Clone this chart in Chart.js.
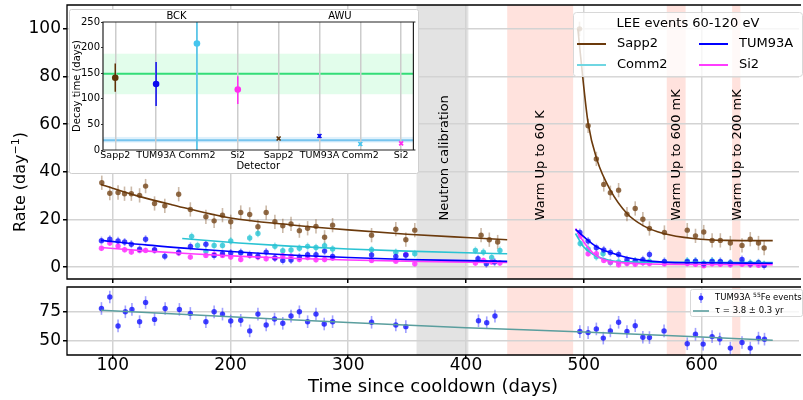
<!DOCTYPE html>
<html>
<head>
<meta charset="utf-8">
<title>LEE rates</title>
<script src="https://cdn.jsdelivr.net/npm/chart.js@4.4.1/dist/chart.umd.min.js"></script>
<style>
  html, body { margin: 0; padding: 0; background: #fff; }
  body { width: 803px; height: 400px; overflow: hidden; position: relative; }
  canvas { position: absolute; }
  #rateChart { left: 0; top: 0; }
  #feChart { left: 0; top: 283px; }
  #tauChart { left: 69px; top: 9px; }
</style>
</head>
<body>
<canvas id="rateChart" width="803" height="283"></canvas>
<canvas id="feChart" width="803" height="125"></canvas>
<canvas id="tauChart" width="350" height="165"></canvas>
<script>
// Axis ticks
const dayTicks = [100, 200, 300, 400, 500, 600];
const rateTicks = [0, 20, 40, 60, 80, 100];
const feTicks = [50, 75];
const tauTicks = [0, 50, 100, 150, 200, 250];

// Shaded periods (days since cooldown)
const neutronCal = [358, 402];
const warmUps = [[435, 491], [570.5, 586.5], [626, 633]];
const periodLabels = ['Neutron calibration', 'Warm Up to 60 K', 'Warm Up to 600 mK', 'Warm Up to 200 mK'];
const periodLabelDays = [382, 463, 579, 631];

// LEE events 60-120 eV : Sapp2
const sappDays = [90.7, 97.5, 104.5, 110, 115.8, 122.8, 127.9, 135.5, 144.2, 156,
  165.9, 179.1, 186.1, 193.2, 200.2, 208.7, 216.3, 223.3, 230.3, 237.7,
  244.4, 251.4, 258.5, 265.5, 272.6, 279.9, 286.7, 319.8, 340.4, 348.9,
  356.5, 412.8, 419.8, 426.9,
  496.4, 503.7, 510.7, 517, 522.6, 529.6, 536.7, 543.7, 550.2, 555.8,
  568.5, 587.9, 594.9, 601.9, 609, 616, 624.5, 634.4, 641.4, 648.4, 653.2];
const sappRate = [35.4, 31.0, 31.3, 30.8, 30.8, 30.1, 34.0, 26.7, 25.7, 30.6,
  24.2, 21.1, 19.4, 21.8, 19.0, 22.9, 22.1, 16.9, 22.9, 19.0,
  17.3, 18.1, 15.3, 16.3, 17.1, 12.5, 17.6, 13.4, 15.9, 11.5,
  15.5, 13.4, 11.5, 10.5,
  100, 59.3, 45.4, 34.7, 31.2, 32.3, 22.2, 24.6, 20.1, 16.2,
  14.5, 15.5, 13.1, 14.7, 11.2, 11.2, 10.1, 9.1, 11.7, 10.1, 8.0];
const sappFitDays1 = [90, 120, 150, 200, 250, 300, 350, 400, 435];
const sappFit1 = [34.7, 30.0, 26.2, 20.6, 17.8, 15.6, 13.8, 12.4, 11.5];
const sappFitDays2 = [495, 499.5, 503.7, 511.3, 522.6, 536.7, 550.8, 567.7, 593, 621, 660.5];
const sappFit2 = [100, 78, 60.4, 44.9, 32.3, 22.5, 17.3, 14.1, 12.0, 11.2, 11.1];

// TUM93A
const tumDays = [90.4, 97.5, 104.5, 110.1, 115.8, 122.8, 127.9, 135.5, 144.2, 156,
  166, 179.1, 186.1, 193.2, 200.2, 208.7, 216.3, 223.3, 230.3, 237.7,
  244.4, 251.4, 258.5, 265.5, 272.6, 279.9, 286.7, 319.8, 340.4, 348.9,
  410.2, 417.3, 424.3,
  496.7, 503.7, 510.7, 517, 522.6, 529.6, 536.7, 543.7, 550.2, 555.8,
  568.5, 587.9, 594.9, 601.9, 609, 616, 624.5, 634.4, 641.4, 648.4, 653.2];
const tumRate = [11.1, 11.7, 11.0, 10.5, 9.6, 7.5, 11.7, 7.3, 4.6, 6.3,
  8.7, 9.6, 4.9, 5.6, 5.9, 6.1, 5.2, 4.6, 6.3, 3.8,
  2.8, 3.0, 4.2, 5.2, 5.2, 6.7, 4.5, 5.1, 4.5, 5.1,
  3.5, 1.4, 2.1,
  14.5, 10.9, 8.1, 7.2, 6.1, 5.3, 3.1, 2.4, 3.1, 5.3,
  2.4, 2.3, 2.5, 1.4, 2.4, 2.4, 1.7, 3.2, 1.4, 1.8, 0.7];
const tumFitDays1 = [90, 130, 170, 210, 250, 300, 350, 400, 435];
const tumFit1 = [11.2, 9.2, 7.6, 6.2, 5.1, 4.0, 3.2, 2.7, 2.4];
const tumFitDays2 = [493, 503.7, 511.3, 522.6, 536.7, 550.8, 567.7, 600, 660.5];
const tumFit2 = [15.8, 11.2, 8.4, 6.1, 4.0, 2.8, 2.1, 1.8, 1.6];

// Comm2
const commDays = [167, 172, 179.1, 186.1, 193.2, 200.2, 208.7, 216.3, 223.3, 237.7,
  244.4, 251.4, 258.5, 265.5, 272.6, 279.9, 286.7, 319.8, 340.4, 348.9,
  356.5, 408, 414.8, 421.8, 428.8,
  497, 503.7, 510.7, 516.4, 522.6, 529.6, 536.7, 543.7, 550.2, 555.8,
  568.5, 587.9, 594.9, 601.9, 609, 616, 624.5, 634.4, 641.4, 648.4, 653.2];
const commRate = [12.9, 9.1, 6.6, 9.1, 9.1, 11.0, 5.9, 12.2, 14.1, 8.7,
  6.9, 7.2, 7.9, 8.7, 8.2, 9.0, 7.6, 7.3, 6.2, 5.2,
  5.6, 7.0, 6.3, 4.0, 7.0,
  9.9, 7.6, 4.3, 5.6, 1.9, 2.2, 2.0, 2.6, 2.2, 2.4,
  2.1, 2.6, 2.5, 1.5, 2.6, 2.2, 1.8, 2.0, 1.7, 1.8, 1.2];
const commFitDays1 = [159, 207, 250, 300, 350, 400, 435];
const commFit1 = [12.0, 10.1, 8.8, 7.6, 6.7, 6.0, 5.6];
const commFitDays2 = [493, 500, 508.5, 522.6, 540, 580, 660.5];
const commFit2 = [14.1, 8.4, 5.2, 2.8, 2.2, 2.0, 1.9];

// Si2
const siDays = [90.4, 97.5, 104.5, 110.1, 115.8, 122.8, 127.9, 135.5, 156, 165.9,
  179.1, 186.1, 193.2, 200.2, 208.7, 216.3, 223.3, 230.3, 237.7, 244.4,
  251.4, 258.5, 265.5, 272.6, 279.9, 286.7, 319.8, 340.4, 348.9, 356.5,
  408, 414.8, 421.8, 428.8,
  497, 503.7, 510.7, 517, 522.6, 529.6, 536.7, 543.7, 550.2, 555.8,
  568.5, 587.9, 594.9, 601.9, 609, 616, 624.5, 634.4, 641.4, 648.4, 653.2];
const siRate = [7.9, 10.1, 8.8, 7.3, 6.3, 7.0, 7.0, 7.0, 5.9, 4.2,
  4.9, 5.3, 4.9, 4.2, 3.2, 4.9, 4.2, 3.5, 3.8, 4.8,
  4.6, 3.2, 4.0, 3.1, 3.2, 3.8, 2.8, 2.5, 5.2, 1.4,
  1.7, 2.8, 2.1, 1.7,
  13.0, 5.6, 5.6, 2.8, 2.0, 1.0, 1.5, 1.2, 1.8, 1.5,
  1.4, 1.5, 1.2, 0.6, 1.4, 1.2, 1.0, 1.2, 1.0, 0.8, 1.0];
const siFitDays1 = [90, 130, 170, 210, 250, 300, 350, 400, 435];
const siFit1 = [8.2, 6.7, 5.5, 4.5, 3.7, 3.0, 2.5, 2.1, 1.9];
const siFitDays2 = [493, 500, 508.5, 517, 528, 550, 600, 660.5];
const siFit2 = [16.2, 10.5, 5.6, 3.1, 2.1, 1.4, 1.1, 1.0];

// TUM93A 55Fe events (lower panel)
const feDays = [90.4, 97.5, 104.5, 110.7, 116.3, 122.8, 127.9, 135.5, 144.5, 156.6,
  165.9, 179.1, 186.1, 193.2, 200.2, 208.7, 216.3, 223.3, 230.3, 237.4,
  244.4, 251.4, 258.5, 265.5, 272.6, 279.6, 286.7, 319.8, 340.4, 348.9,
  410.6, 417.6, 424.6,
  496.7, 503.7, 510.7, 516.6, 522.6, 529.6, 536.7, 543.7, 550.2, 555.8,
  568.2, 587.9, 594.9, 601.4, 609, 615.5, 624.5, 634.4, 641.4, 648.4, 653.5];
const feRate = [77.9, 87.9, 62.7, 75.0, 77.1, 66.4, 83.1, 68.4, 77.9, 77.1,
  73.6, 66.4, 75.0, 73.0, 67.0, 67.6, 58.4, 73.0, 63.5, 68.7,
  65.0, 71.3, 75.0, 66.4, 73.0, 64.4, 66.4, 65.9, 63.5, 62.1,
  67.2, 65.5, 71.3,
  57.8, 56.9, 60.1, 52.1, 58.4, 65.9, 57.8, 62.9, 52.9, 52.6,
  58.4, 47.2, 55.5, 46.9, 53.4, 51.4, 43.4, 48.3, 43.4, 52.1, 51.2];
const feFitDays = [90, 200, 300, 400, 500, 600, 660.5];
const feFit = [76.3, 70.7, 65.6, 61.2, 57.5, 53.0, 50.3];

// Inset: decay times (days)
const detectors = ['Sapp2', 'TUM93A', 'Comm2', 'Si2', 'Sapp2', 'TUM93A', 'Comm2', 'Si2'];
const periods = ['BCK', 'AWU'];
const bckPos = [0, 1, 2, 3];
const bckTau = [141, 129, 208, 118];
const bckLo = [114, 86, 0, 90];
const bckHi = [169, 172, 300, 144];
const awuPos = [4, 5, 6, 7];
const awuTau = [22.5, 27.3, 11.7, 13];
const awuLo = [20.5, 23.5, 8.7, 10];
const awuHi = [24.5, 31, 14.7, 16];
const tauBckBand = [109, 188, 149];
const tauAwuBand = [14.5, 25.5, 19];

const brown = '#6b3a0c', blue = '#0000ff', cyan = '#2ac3d3', magenta = '#ff3cff';
const colors = ['#5e3206', '#0a0af0', '#45c5ee', '#ff2ef0'];

Chart.defaults.font.family = 'DejaVu Sans';
Chart.defaults.color = '#000';
Chart.defaults.animation = false;

function pts(xs, ys) {
  return xs.map((x, i) => ({ x: x, y: ys[i] }));
}

function fitSet(days, vals, color, width) {
  return {
    data: pts(days, vals), showLine: true, borderColor: color, borderWidth: width || 1.6,
    pointRadius: 0, cubicInterpolationMode: 'monotone', fill: false
  };
}

function dotSet(days, vals, color, err, errColor) {
  return {
    data: pts(days, vals), backgroundColor: color, borderWidth: 0, pointRadius: 2.7,
    err: err, errColor: errColor
  };
}

// fixed scale size so the plot areas line up
function fixBox(size) {
  return function(s) {
    if (s.isHorizontal()) s.height = size; else s.width = size;
    s.paddingTop = s.paddingBottom = s.paddingLeft = s.paddingRight = 0;
  };
}

function setTicks(list) {
  return function(s) { s.ticks = list.map(v => ({ value: v })); };
}

function clipArea(ctx, a) {
  ctx.beginPath();
  ctx.rect(a.left, a.top, a.right - a.left, a.bottom - a.top);
  ctx.clip();
}

// shaded periods / bands
function shading(xBands, yBands) {
  return {
    id: 'shading',
    beforeDraw(chart) {
      const { ctx, chartArea: a } = chart;
      const xs = chart.scales.x, ys = chart.scales.y;
      ctx.save();
      clipArea(ctx, a);
      xBands.forEach(b => {
        const x0 = xs.getPixelForValue(b.from), x1 = xs.getPixelForValue(b.to);
        ctx.fillStyle = b.color;
        ctx.fillRect(x0, a.top, x1 - x0, a.bottom - a.top);
      });
      yBands.forEach(b => {
        const y0 = ys.getPixelForValue(b.to), y1 = ys.getPixelForValue(b.from);
        ctx.fillStyle = b.color;
        ctx.fillRect(a.left, y0, a.right - a.left, y1 - y0);
        const yl = ys.getPixelForValue(b.mid);
        ctx.strokeStyle = b.lineColor;
        ctx.lineWidth = 2;
        ctx.beginPath(); ctx.moveTo(a.left, yl); ctx.lineTo(a.right, yl); ctx.stroke();
      });
      ctx.restore();
    }
  };
}

// vertical error bars read from dataset.err (symmetric) or dataset.lo / dataset.hi
const errorBars = {
  id: 'errorBars',
  beforeDatasetsDraw(chart) {
    const { ctx, chartArea: a } = chart;
    const xs = chart.scales.x, ys = chart.scales.y;
    ctx.save();
    clipArea(ctx, a);
    chart.data.datasets.forEach(ds => {
      if (ds.err == null && !ds.lo) return;
      ctx.lineWidth = ds.errWidth || 1.6;
      ds.data.forEach((p, i) => {
        const lo = ds.lo ? ds.lo[i] : p.y - ds.err;
        const hi = ds.hi ? ds.hi[i] : p.y + ds.err;
        const x = xs.getPixelForValue(p.x);
        ctx.strokeStyle = Array.isArray(ds.errColor) ? ds.errColor[i] : ds.errColor;
        ctx.beginPath();
        ctx.moveTo(x, ys.getPixelForValue(lo));
        ctx.lineTo(x, ys.getPixelForValue(hi));
        ctx.stroke();
      });
    });
    ctx.restore();
  }
};

// axes frame; the right spine of the main panels falls outside the picture
function frame(color, width, right) {
  return {
    id: 'frame',
    afterDatasetsDraw(chart) {
      const { ctx, chartArea: a } = chart;
      ctx.save();
      ctx.strokeStyle = color;
      ctx.lineWidth = width;
      ctx.beginPath();
      ctx.moveTo(a.right + 2, a.top);
      ctx.lineTo(a.left, a.top);
      ctx.lineTo(a.left, a.bottom);
      ctx.lineTo(a.right + 2, a.bottom);
      if (right) { ctx.moveTo(a.right, a.top); ctx.lineTo(a.right, a.bottom); }
      ctx.stroke();
      ctx.restore();
    }
  };
}

function roundBox(ctx, x, y, w, h, r) {
  ctx.beginPath();
  ctx.moveTo(x + r, y);
  ctx.arcTo(x + w, y, x + w, y + h, r);
  ctx.arcTo(x + w, y + h, x, y + h, r);
  ctx.arcTo(x, y + h, x, y, r);
  ctx.arcTo(x, y, x + w, y, r);
  ctx.closePath();
}

const gridStyle = { color: '#d3d3d3', lineWidth: 1.5, tickLength: 4, tickColor: '#000' };

// upper panel decorations: period labels, y title, legend
const rateExtras = {
  id: 'rateExtras',
  afterDatasetsDraw(chart) {
    const { ctx } = chart;
    const xs = chart.scales.x, ys = chart.scales.y;
    ctx.save();
    ctx.fillStyle = '#000';
    ctx.font = '13px "DejaVu Sans"';
    ctx.textAlign = 'left';
    ctx.textBaseline = 'middle';
    periodLabels.forEach((t, i) => {
      ctx.save();
      ctx.translate(xs.getPixelForValue(periodLabelDays[i]), ys.getPixelForValue(19.6));
      ctx.rotate(-Math.PI / 2);
      ctx.fillText(t, 0, 0);
      ctx.restore();
    });
    ctx.restore();
  },
  afterDraw(chart) {
    const { ctx } = chart;
    ctx.save();
    // y axis title with superscript
    ctx.translate(21, 182);
    ctx.rotate(-Math.PI / 2);
    ctx.fillStyle = '#000';
    ctx.textBaseline = 'middle';
    const big = '16px "DejaVu Sans"', small = '11px "DejaVu Sans"';
    ctx.font = big;
    const w1 = ctx.measureText('Rate (day').width, w3 = ctx.measureText(')').width;
    ctx.font = small;
    const w2 = ctx.measureText('\u22121').width;
    let x = -(w1 + w2 + w3) / 2;
    ctx.font = big; ctx.textAlign = 'left';
    ctx.fillText('Rate (day', x, 0); x += w1;
    ctx.font = small; ctx.fillText('\u22121', x, -5); x += w2;
    ctx.font = big; ctx.fillText(')', x, 0);
    ctx.restore();

    // legend
    ctx.save();
    roundBox(ctx, 573.5, 12.5, 229, 64, 3);
    ctx.fillStyle = 'rgba(255,255,255,0.8)';
    ctx.fill();
    ctx.strokeStyle = '#d8d8d8';
    ctx.lineWidth = 1;
    ctx.stroke();
    ctx.fillStyle = '#000';
    ctx.font = '13px "DejaVu Sans"';
    ctx.textBaseline = 'middle';
    ctx.textAlign = 'center';
    ctx.fillText('LEE events 60-120 eV', 688, 24);
    ctx.textAlign = 'left';
    const entries = [['Sapp2', brown, 577, 44], ['TUM93A', blue, 699, 44],
                     ['Comm2', '#6fd6e2', 577, 65], ['Si2', magenta, 699, 65]];
    entries.forEach(e => {
      ctx.strokeStyle = e[1];
      ctx.lineWidth = 2;
      ctx.beginPath(); ctx.moveTo(e[2], e[3]); ctx.lineTo(e[2] + 29, e[3]); ctx.stroke();
      ctx.fillText(e[0], e[2] + 40, e[3]);
    });
    ctx.restore();
  }
};

const periodBands = [{ from: neutronCal[0], to: neutronCal[1], color: 'rgba(200,200,200,0.5)' }]
  .concat(warmUps.map(w => ({ from: w[0], to: w[1], color: 'rgba(255,190,180,0.45)' })));

const rateChart = new Chart(document.getElementById('rateChart'), {
  type: 'scatter',
  data: {
    datasets: [
      fitSet(sappFitDays1, sappFit1, brown),
      fitSet(sappFitDays2, sappFit2, brown),
      fitSet(tumFitDays1, tumFit1, blue),
      fitSet(tumFitDays2, tumFit2, blue),
      fitSet(siFitDays1, siFit1, magenta),
      fitSet(siFitDays2, siFit2, magenta),
      fitSet(commFitDays1, commFit1, cyan),
      fitSet(commFitDays2, commFit2, cyan),
      dotSet(sappDays, sappRate, 'rgba(125,80,38,0.85)', 3.0, 'rgba(125,80,38,0.4)'),
      dotSet(tumDays, tumRate, 'rgba(20,20,255,0.8)', 1.7, 'rgba(20,20,255,0.35)'),
      dotSet(siDays, siRate, 'rgba(255,40,255,0.8)', 1.2, 'rgba(255,40,255,0.35)'),
      dotSet(commDays, commRate, 'rgba(50,200,215,0.85)', 1.6, 'rgba(50,200,215,0.4)')
    ]
  },
  options: {
    responsive: false,
    devicePixelRatio: 1,
    layout: { padding: { left: 0, right: 0, top: 5, bottom: 0 } },
    plugins: { legend: { display: false }, tooltip: { enabled: false } },
    scales: {
      x: {
        type: 'linear', min: 61.15, max: 682.8,
        afterBuildTicks: setTicks(dayTicks),
        ticks: { display: false },
        grid: gridStyle,
        border: { display: false },
        afterFit: fixBox(4)
      },
      y: {
        min: -5, max: 110,
        afterBuildTicks: setTicks(rateTicks),
        ticks: { font: { size: 17 }, padding: 2 },
        grid: gridStyle,
        border: { display: false },
        afterFit: fixBox(67)
      }
    }
  },
  plugins: [shading(periodBands, []), errorBars, frame('#000', 1.3, false), rateExtras]
});

// lower panel legend
const feExtras = {
  id: 'feExtras',
  afterDraw(chart) {
    const { ctx } = chart;
    ctx.save();
    roundBox(ctx, 690.5, 6.5, 112, 27, 2);
    ctx.fillStyle = 'rgba(255,255,255,0.8)';
    ctx.fill();
    ctx.strokeStyle = '#d8d8d8';
    ctx.lineWidth = 1;
    ctx.stroke();
    ctx.strokeStyle = 'rgba(20,20,255,0.4)';
    ctx.lineWidth = 1.6;
    ctx.beginPath(); ctx.moveTo(701, 10); ctx.lineTo(701, 20); ctx.stroke();
    ctx.fillStyle = 'rgba(20,20,255,0.85)';
    ctx.beginPath(); ctx.arc(701, 15, 2.4, 0, Math.PI * 2); ctx.fill();
    ctx.strokeStyle = '#5a9e9e';
    ctx.beginPath(); ctx.moveTo(693, 28); ctx.lineTo(709, 28); ctx.stroke();
    ctx.fillStyle = '#000';
    ctx.textBaseline = 'middle';
    ctx.textAlign = 'left';
    ctx.font = '8.5px "DejaVu Sans"';
    ctx.fillText('TUM93A ', 715, 15);
    let x = 715 + ctx.measureText('TUM93A ').width;
    ctx.font = '6px "DejaVu Sans"';
    ctx.fillText('55', x, 12);
    x += ctx.measureText('55').width;
    ctx.font = '8.5px "DejaVu Sans"';
    ctx.fillText('Fe events', x, 15);
    ctx.fillText('\u03C4 = 3.8 \u00B1 0.3 yr', 715, 28);
    ctx.restore();
  }
};

const feChart = new Chart(document.getElementById('feChart'), {
  type: 'scatter',
  data: {
    datasets: [
      fitSet(feFitDays, feFit, '#5a9e9e', 1.5),
      dotSet(feDays, feRate, 'rgba(20,20,255,0.8)', 5.5, 'rgba(20,20,255,0.4)')
    ]
  },
  options: {
    responsive: false,
    devicePixelRatio: 1,
    layout: { padding: { left: 0, right: 0, top: 4, bottom: 0 } },
    plugins: { legend: { display: false }, tooltip: { enabled: false } },
    scales: {
      x: {
        type: 'linear', min: 61.15, max: 682.8,
        afterBuildTicks: setTicks(dayTicks),
        ticks: { font: { size: 17 }, padding: -4, maxRotation: 0 },
        grid: gridStyle,
        border: { display: false },
        title: { display: true, text: 'Time since cooldown (days)', font: { size: 18 }, padding: { top: 0, bottom: 10 } },
        afterFit: fixBox(53)
      },
      y: {
        min: 37.4, max: 96.6,
        afterBuildTicks: setTicks(feTicks),
        ticks: { font: { size: 17 }, padding: 2 },
        grid: gridStyle,
        border: { display: false },
        afterFit: fixBox(67)
      }
    }
  },
  plugins: [shading(periodBands, []), errorBars, frame('#000', 1.3, false), feExtras]
});

// inset: white box behind the axes
const insetBox = {
  id: 'insetBox',
  beforeDraw(chart) {
    const { ctx, width, height } = chart;
    ctx.save();
    roundBox(ctx, 0.5, 0.5, width - 1, height - 1, 2);
    ctx.fillStyle = '#fff';
    ctx.fill();
    ctx.strokeStyle = '#cfcfcf';
    ctx.lineWidth = 1;
    ctx.stroke();
    ctx.restore();
  }
};

const tauChart = new Chart(document.getElementById('tauChart'), {
  type: 'scatter',
  data: {
    datasets: [
      {
        data: pts(bckPos, bckTau), pointStyle: 'circle', pointRadius: 3.3,
        backgroundColor: colors, borderWidth: 0,
        lo: bckLo, hi: bckHi, errColor: colors, errWidth: 1.5
      },
      {
        data: pts(awuPos, awuTau), pointStyle: 'crossRot', pointRadius: 2.8,
        borderColor: colors, borderWidth: 1.6,
        lo: awuLo, hi: awuHi, errColor: colors, errWidth: 1.5
      }
    ]
  },
  options: {
    responsive: false,
    devicePixelRatio: 1,
    layout: { padding: { left: 0, right: 3, top: 0, bottom: 0 } },
    plugins: { legend: { display: false }, tooltip: { enabled: false } },
    scales: {
      x: {
        type: 'linear', min: -0.3, max: 7.3,
        afterBuildTicks: setTicks(detectors.map((d, i) => i)),
        ticks: { font: { size: 9.5 }, padding: 0, maxRotation: 0, autoSkip: false,
                 callback: (v) => detectors[v] },
        grid: { color: '#cccccc', lineWidth: 1.5, drawTicks: false },
        border: { display: false },
        title: { display: true, text: 'Detector', font: { size: 10 }, padding: { top: 0, bottom: 2 } },
        afterFit: fixBox(24)
      },
      x2: {
        type: 'linear', position: 'top', min: -0.3, max: 7.3,
        afterBuildTicks: setTicks([1.5, 5.5]),
        ticks: { font: { size: 10 }, padding: 0, maxRotation: 0,
                 callback: (v, i) => periods[i] },
        grid: { display: false, drawTicks: false },
        border: { display: false },
        afterFit: fixBox(13)
      },
      y: {
        min: 0, max: 250,
        afterBuildTicks: setTicks(tauTicks),
        ticks: { font: { size: 10 }, padding: 1 },
        grid: { drawOnChartArea: false, tickLength: 2, tickColor: '#333' },
        border: { display: false },
        title: { display: true, text: 'Decay time (days)', font: { size: 10 }, padding: { top: 2, bottom: 0 } },
        afterFit: fixBox(34)
      }
    }
  },
  plugins: [insetBox, shading([], [
    { from: tauBckBand[0], to: tauBckBand[1], mid: tauBckBand[2], color: 'rgba(160,250,190,0.3)', lineColor: '#33dd77' },
    { from: tauAwuBand[0], to: tauAwuBand[1], mid: tauAwuBand[2], color: 'rgba(150,210,245,0.3)', lineColor: '#77c4ee' }
  ]), errorBars, frame('#222', 1.2, true)]
});
</script>
</body>
</html>
